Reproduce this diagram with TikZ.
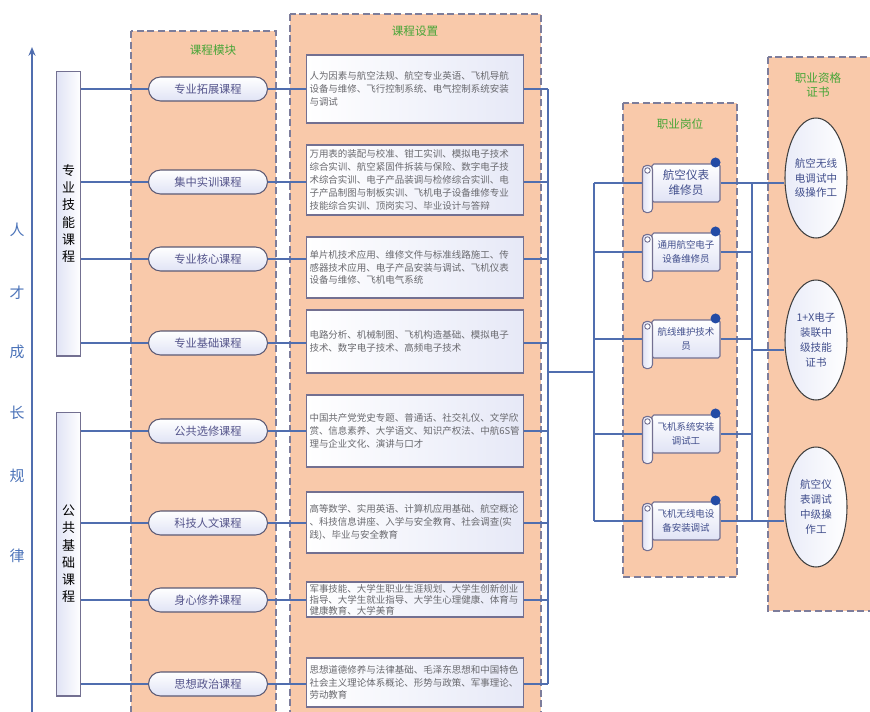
\documentclass[tikz,border=0pt]{standalone}
\usepackage{fontspec}
\setmainfont{Noto Sans CJK SC}
\usepackage{xcolor}
\usepackage{tikz}
\usetikzlibrary{shapes.geometric, arrows.meta, calc}

\definecolor{peach}{RGB}{249,201,170}
\definecolor{dashgray}{RGB}{125,125,155}
\definecolor{linkblue}{RGB}{80,110,175}
\definecolor{lav}{RGB}{224,227,245}
\definecolor{boxedge}{RGB}{115,112,145}
\definecolor{titlegreen}{RGB}{70,165,55}
\definecolor{txtgray}{RGB}{105,105,110}
\definecolor{jobtxt}{RGB}{65,78,140}
\definecolor{growblue}{RGB}{75,115,185}
\definecolor{dotblue}{RGB}{35,75,165}

\tikzstyle{colbox}  = [draw=dashgray, line width=0.8pt, dash pattern=on 4pt off 2pt,
                       fill=peach]
\tikzstyle{ctitle}  = [text=titlegreen, align=center, font=\fontsize{6.6pt}{8pt}\selectfont]
\tikzstyle{growtext} = [text=growblue, font=\fontsize{8.5pt}{9pt}\selectfont]
\tikzstyle{groupbox} = [rectangle, draw=boxedge, line width=0.6pt, left color=lav,
                       right color=white, minimum width=0.46cm, align=center,
                       font=\fontsize{7.4pt}{9.8pt}\selectfont]
\tikzstyle{modbox}  = [rectangle, rounded corners=0.24cm, draw=boxedge!80!black,
                       line width=0.6pt, top color=white, bottom color=lav,
                       minimum width=2.38cm, minimum height=0.48cm,
                       text=txtgray!80!blue, font=\fontsize{6.4pt}{7pt}\selectfont]
\tikzstyle{setbox}  = [rectangle, draw=boxedge, line width=0.8pt, left color=white,
                       right color=lav!80, minimum width=4.34cm, text width=4.22cm,
                       inner xsep=0.06cm, inner ysep=1pt, align=left, text=txtgray,
                       font=\fontsize{5.4pt}{7.3pt}\selectfont]
\tikzstyle{jobbox}  = [rectangle, rounded corners=1pt, draw=boxedge, line width=0.6pt,
                       top color=white, bottom color=lav, minimum width=1.36cm,
                       minimum height=0.76cm, inner xsep=1pt, text=jobtxt, align=center,
                       font=\fontsize{5.4pt}{7.6pt}\selectfont]
\tikzstyle{certbox} = [ellipse, draw=black!75, line width=0.6pt, left color=lav!70,
                       right color=white, minimum width=1.24cm, minimum height=2.4cm,
                       inner sep=0pt, text=jobtxt, align=center,
                       font=\fontsize{6pt}{8.5pt}\selectfont]
\tikzstyle{link}    = [draw=linkblue, line width=0.6pt]

% scroll roll and dot on a job box
\newcommand{\jobroll}[1]{%
  \draw[draw=boxedge, line width=0.6pt, left color=lav, right color=white,
        rounded corners=0.08cm]
    ($(#1.north west)+(-9,2)$) rectangle ($(#1.south west)+(1,10)$);
  \draw[draw=boxedge, line width=0.5pt, fill=white]
    ($(#1.north west)+(-4,7)$) circle[radius=0.055cm];
  \fill[dotblue] ($(#1.north east)+(-5,-1)$) circle[radius=0.1cm];
}

\begin{document}
\begin{tikzpicture}[x=0.02cm, y=-0.02cm]
  \useasboundingbox (0,0) rectangle (870,711);
  \fill[white] (0,0) rectangle (870,711);

  % Columns
  \draw[colbox] (131,31)  rectangle (276,720);
  \draw[colbox] (290,14)  rectangle (541,720);
  \draw[colbox] (623,103) rectangle (737,577);
  \draw[colbox] (768,57)  rectangle (880,611);
  \node[ctitle] (tmod)  at (213,50)  {课程模块};
  \node[ctitle] (tset)  at (415,31)  {课程设置};
  \node[ctitle] (tjob)  at (680,124) {职业岗位};
  \node[ctitle] (tcert) at (818,85)  {职业资格\\证书};

  % Growth axis
  \coordinate (axisbot) at (32,716);
  \coordinate (axistop) at (32,47);
  \draw[-{Stealth[length=5pt, width=4pt]}, linkblue, line width=0.7pt] (axisbot) -- (axistop);
  \node[growtext] (g1) at (17,230) {人};
  \node[growtext] (g2) at (17,293) {才};
  \node[growtext] (g3) at (17,352) {成};
  \node[growtext] (g4) at (17,413) {长};
  \node[growtext] (g5) at (17,476) {规};
  \node[growtext] (g6) at (17,556) {律};

  % Course groups
  \node[groupbox, minimum height=5.7cm]  (grp1) at (68.5,213.5) {专\\业\\技\\能\\课\\程};
  \node[groupbox, minimum height=5.68cm] (grp2) at (68.5,554)   {公\\共\\基\\础\\课\\程};

  % Course modules
  \node[modbox] (mod1) at (208,89)  {专业拓展课程};
  \node[modbox] (mod2) at (208,182) {集中实训课程};
  \node[modbox] (mod3) at (208,259) {专业核心课程};
  \node[modbox] (mod4) at (208,343) {专业基础课程};
  \node[modbox] (mod5) at (208,431) {公共选修课程};
  \node[modbox] (mod6) at (208,523) {科技人文课程};
  \node[modbox] (mod7) at (208,600) {身心修养课程};
  \node[modbox] (mod8) at (208,684) {思想政治课程};

  % Course settings
  \node[setbox, minimum height=1.36cm] (set1) at (415,89)
    {人为因素与航空法规、航空专业英语、飞机导航\\设备与维修、飞行控制系统、电气控制系统安装\\与调试};
  \node[setbox, minimum height=1.40cm] (set2) at (415,180)
    {万用表的装配与校准、钳工实训、模拟电子技术\\综合实训、航空紧固件拆装与保险、数字电子技\\术综合实训、电子产品装调与检修综合实训、电\\子产品制图与制板实训、飞机电子设备维修专业\\技能综合实训、顶岗实习、毕业设计与答辩};
  \node[setbox, minimum height=1.22cm] (set3) at (415,267.5)
    {单片机技术应用、维修文件与标准线路施工、传\\感器技术应用、电子产品安装与调试、飞机仪表\\设备与维修、飞机电气系统};
  \node[setbox, minimum height=1.26cm] (set4) at (415,341.5)
    {电路分析、机械制图、飞机构造基础、模拟电子\\技术、数字电子技术、高频电子技术};
  \node[setbox, minimum height=1.44cm] (set5) at (415,431)
    {中国共产党党史专题、普通话、社交礼仪、文学欣\\赏、信息素养、大学语文、知识产权法、中航6S管\\理与企业文化、演讲与口才};
  \node[setbox, minimum height=1.22cm] (set6) at (415,522.5)
    {高等数学、实用英语、计算机应用基础、航空概论\\、科技信息讲座、入学与安全教育、社会调查(实\\践)、毕业与安全教育};
  \node[setbox, minimum height=0.70cm, font=\fontsize{5.4pt}{6.3pt}\selectfont] (set7) at (415,599.5)
    {军事技能、大学生职业生涯规划、大学生创新创业\\指导、大学生就业指导、大学生心理健康、体育与\\健康教育、大学美育};
  \node[setbox, minimum height=0.98cm] (set8) at (415,682.5)
    {思想道德修养与法律基础、毛泽东思想和中国特色\\社会主义理论体系概论、形势与政策、军事理论、\\劳动教育};

  % Jobs
  \node[jobbox, font=\fontsize{6.6pt}{8.5pt}\selectfont] (job1) at (686,183) {航空仪表\\维修员};
  \node[jobbox] (job2) at (686,252) {通用航空电子\\设备维修员};
  \node[jobbox] (job3) at (686,339) {航线维护技术\\员};
  \node[jobbox] (job4) at (686,434) {飞机系统安装\\调试工};
  \node[jobbox] (job5) at (686,521) {飞机无线电设\\备安装调试};

  % Certificates
  \node[certbox] (cert1) at (816,178) {航空无线\\电调试中\\级操作工};
  \node[certbox] (cert2) at (816,340) {1+X电子\\装联中\\级技能\\证书};
  \node[certbox] (cert3) at (816,507) {航空仪\\表调试\\中级操\\作工};

  % Buses
  \coordinate (busA) at (548,0);
  \coordinate (busB) at (594,0);
  \coordinate (busC) at (752,0);
  \coordinate (hubA) at (548,372);
  \coordinate (hubC) at (752,350);

  % Groups to modules
  \draw[link] (grp1.east |- mod1) -- (mod1);
  \draw[link] (grp1.east |- mod2) -- (mod2);
  \draw[link] (grp1.east |- mod3) -- (mod3);
  \draw[link] (grp1.east |- mod4) -- (mod4);
  \draw[link] (grp2.east |- mod5) -- (mod5);
  \draw[link] (grp2.east |- mod6) -- (mod6);
  \draw[link] (grp2.east |- mod7) -- (mod7);
  \draw[link] (grp2.east |- mod8) -- (mod8);

  % Modules to settings
  \draw[link] (mod1) -- (mod1 -| set1.west);
  \draw[link] (mod2) -- (mod2 -| set2.west);
  \draw[link] (mod3) -- (mod3 -| set3.west);
  \draw[link] (mod4) -- (mod4 -| set4.west);
  \draw[link] (mod5) -- (mod5 -| set5.west);
  \draw[link] (mod6) -- (mod6 -| set6.west);
  \draw[link] (mod7) -- (mod7 -| set7.west);
  \draw[link] (mod8) -- (mod8 -| set8.west);

  % Settings to jobs
  \draw[link] (mod1 -| set1.east) -- (mod1 -| busA);
  \draw[link] (mod2 -| set2.east) -- (mod2 -| busA);
  \draw[link] (mod3 -| set3.east) -- (mod3 -| busA);
  \draw[link] (mod4 -| set4.east) -- (mod4 -| busA);
  \draw[link] (mod5 -| set5.east) -- (mod5 -| busA);
  \draw[link] (mod6 -| set6.east) -- (mod6 -| busA);
  \draw[link] (mod7 -| set7.east) -- (mod7 -| busA);
  \draw[link] (mod8 -| set8.east) -- (mod8 -| busA);
  \draw[link] (mod1 -| busA) -- (mod8 -| busA);
  \draw[link] (hubA) -- (hubA -| busB);
  \draw[link] (job1 -| busB) -- (job5 -| busB);
  \draw[link] (job1 -| busB) -- (job1);
  \draw[link] (job2 -| busB) -- (job2);
  \draw[link] (job3 -| busB) -- (job3);
  \draw[link] (job4 -| busB) -- (job4);
  \draw[link] (job5 -| busB) -- (job5);

  % Jobs to certificates
  \draw[link] (job1) -- (cert1.west |- job1);
  \draw[link] (job2) -- (job2 -| busC);
  \draw[link] (job3) -- (job3 -| busC);
  \draw[link] (job4) -- (job4 -| busC);
  \draw[link] (job5) -- (cert3.west |- job5);
  \draw[link] (job1 -| busC) -- (job5 -| busC);
  \draw[link] (hubC) -- (cert2.west |- hubC);

  % Scroll rolls over the line ends
  \jobroll{job1} \jobroll{job2} \jobroll{job3} \jobroll{job4} \jobroll{job5}
\end{tikzpicture}
\end{document}
